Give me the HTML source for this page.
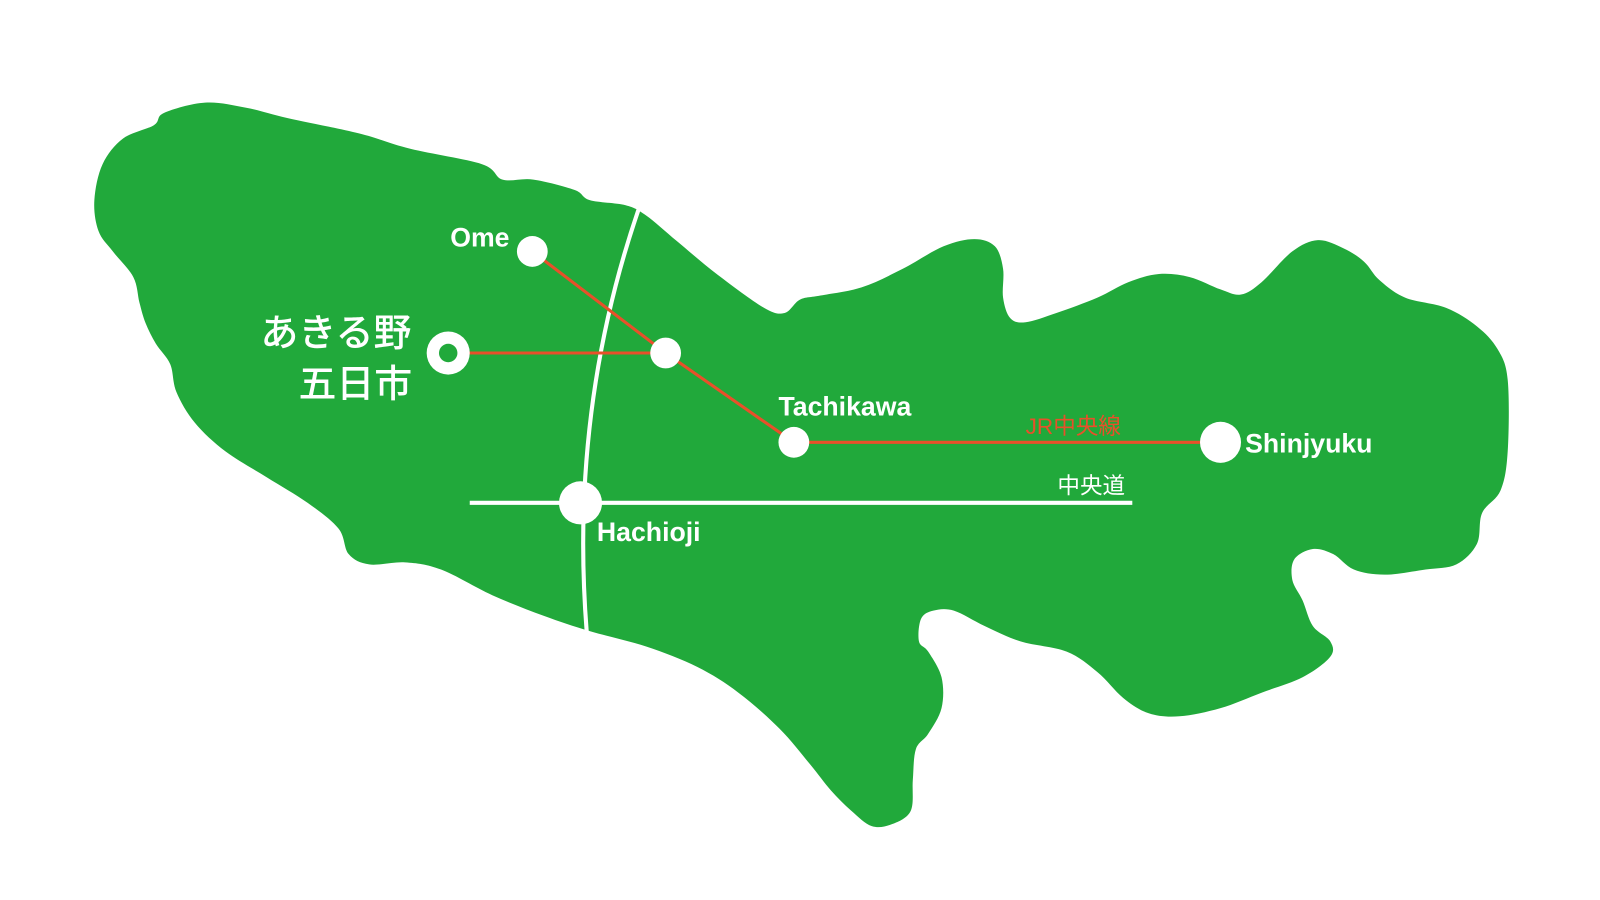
<!DOCTYPE html>
<html><head><meta charset="utf-8"><style>
html,body{margin:0;padding:0;background:#fff;width:1600px;height:900px;overflow:hidden}
svg{display:block}
.l{font-family:"Liberation Sans","Noto Sans CJK JP",sans-serif;font-weight:bold;fill:#fff;font-size:26px}
.j{font-family:"Liberation Sans","Noto Sans CJK JP",sans-serif;font-size:22px}
.big{font-family:"Noto Sans CJK JP",sans-serif;font-weight:500;fill:#fff;font-size:37px}
</style></head><body>
<svg width="1600" height="900" viewBox="0 0 1560 877" preserveAspectRatio="none">
<path id="land" fill="#21a93b" d="M160,110 L200,100 L240,105 L280,115 L350,130 L400,145 L470,160 L490,175 L520,175 L560,185 L575,195 L610,200 L630,210 L660,235 L700,268 L745,300 L765,305 L780,292 L800,288 L840,280 L880,262 L920,240 L950,233 L970,240 L978,262 L978,290 L985,310 L1000,314 L1030,305 L1070,290 L1100,275 L1130,267 L1160,270 L1190,282 L1210,287 L1230,275 L1260,245 L1285,234 L1310,242 L1330,255 L1345,273 L1370,290 L1410,300 L1440,318 L1460,340 L1470,370 L1470,440 L1463,478 L1445,500 L1440,530 L1420,550 L1390,555 L1350,560 L1320,555 L1300,540 L1280,535 L1262,545 L1260,565 L1270,585 L1280,610 L1297,625 L1297,640 L1270,660 L1230,675 L1190,690 L1150,698 L1120,695 L1095,680 L1070,655 L1040,635 L995,625 L960,610 L930,595 L910,595 L898,603 L896,625 L905,635 L918,660 L918,690 L905,715 L893,730 L890,760 L888,790 L870,803 L850,805 L830,790 L810,770 L790,745 L760,710 L720,675 L680,650 L630,630 L575,615 L530,600 L480,580 L430,555 L395,548 L360,550 L340,540 L330,515 L300,490 L260,465 L220,440 L190,412 L172,382 L166,355 L152,335 L142,315 L136,295 L130,270 L110,245 L96,225 L92,195 L100,160 L120,135 L150,122 Z"/>
<path d="M623,203 Q555,400 572,615" fill="none" stroke="#fff" stroke-width="4"/>
<line x1="458" y1="490" x2="1104" y2="490" stroke="#fff" stroke-width="4"/>
<g stroke="#e8502a" stroke-width="3" fill="none">
<polyline points="519,245 649,344 774,431 1190,431"/>
<line x1="437" y1="344" x2="649" y2="344"/>
</g>
<g fill="#fff">
<circle cx="566" cy="490" r="21"/>
<circle cx="519" cy="245" r="15"/>
<circle cx="649" cy="344" r="15"/>
<circle cx="774" cy="431" r="15"/>
<circle cx="1190" cy="431" r="20"/>
<circle cx="437" cy="344" r="21"/>
</g>
<circle cx="437" cy="344" r="9" fill="#21a93b"/>
<text class="l" x="439" y="240">Ome</text>
<text class="l" x="759" y="405">Tachikawa</text>
<text class="l" x="1214" y="441">Shinjyuku</text>
<text class="l" x="582" y="527">Hachioji</text>
<text class="j" x="1000" y="423" fill="#e8502a">JR中央線</text>
<text class="j" x="1031" y="481" fill="#fff">中央道</text>
<text class="big" x="254" y="337">あきる野</text>
<text class="big" x="291" y="387">五日市</text>
</svg>
<script>
(function(){
var p=document.getElementById('land');
var d=p.getAttribute('d');
var nums=d.match(/-?\d+(\.\d+)?/g).map(Number);
var pts=[];for(var i=0;i<nums.length;i+=2)pts.push([nums[i],nums[i+1]]);
var n=pts.length,s='M'+pts[0][0]+','+pts[0][1];
for(var i=0;i<n;i++){
var p0=pts[(i-1+n)%n],p1=pts[i],p2=pts[(i+1)%n],p3=pts[(i+2)%n];
var c1x=p1[0]+(p2[0]-p0[0])/6,c1y=p1[1]+(p2[1]-p0[1])/6;
var c2x=p2[0]-(p3[0]-p1[0])/6,c2y=p2[1]-(p3[1]-p1[1])/6;
s+=' C'+c1x.toFixed(1)+','+c1y.toFixed(1)+' '+c2x.toFixed(1)+','+c2y.toFixed(1)+' '+p2[0]+','+p2[1];
}
p.setAttribute('d',s+'Z');
})();
</script>
</body></html>
